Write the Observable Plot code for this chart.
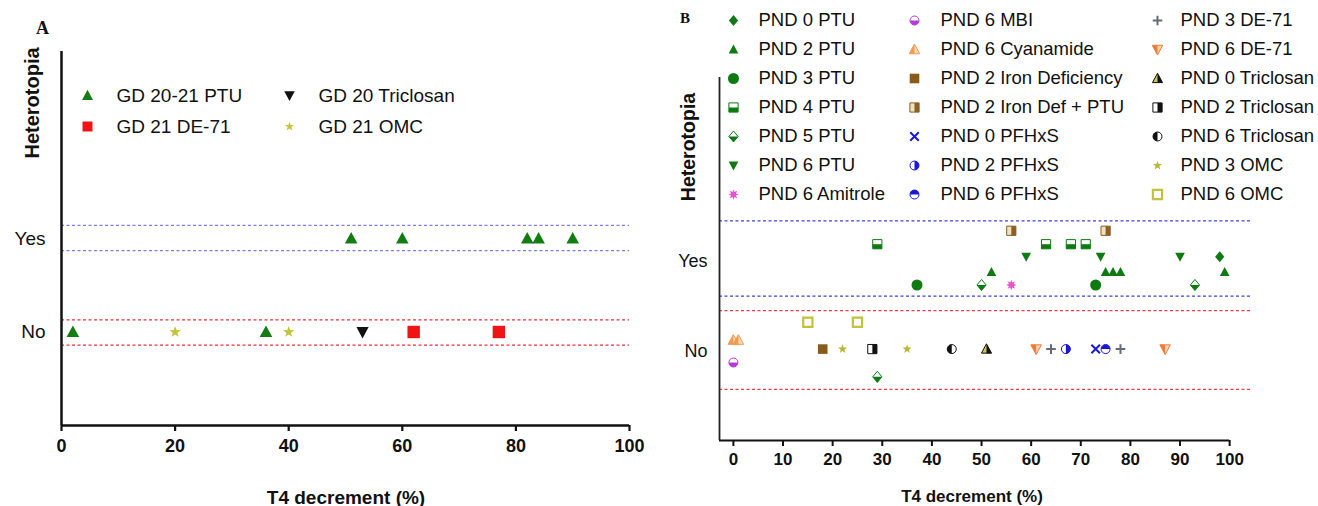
<!DOCTYPE html>
<html><head><meta charset="utf-8">
<script src="https://cdn.jsdelivr.net/npm/d3@7"></script>
<script src="https://cdn.jsdelivr.net/npm/@observablehq/plot@0.6"></script>
<style>
body{margin:0;background:#fff;font-family:"Liberation Sans",Arial,sans-serif;}
#wrap{position:relative;width:1318px;height:506px;overflow:hidden;background:#fff;}
.lbl{position:absolute;font-weight:bold;color:#111;white-space:nowrap;line-height:1;}
.panel{position:absolute;font-family:"Liberation Serif","Times New Roman",serif;font-weight:bold;color:#111;line-height:1;}
</style></head><body><div id="wrap"></div>
<script>
// ---------------- DATA ----------------
const yLabels = ["No", "Yes"];            // level 1 = No, level 2 = Yes
const aXTicks = [0, 20, 40, 60, 80, 100];
const bXTicks = [0, 10, 20, 30, 40, 50, 60, 70, 80, 90, 100];
const aYesBand = [1.87, 2.14], aNoBand = [0.86, 1.13];
const bYesBand = [1.61, 2.45], bNoBand = [0.57, 1.45];

// Panel A
const aSeries = ["GD 20-21 PTU", "GD 20 Triclosan", "GD 21 DE-71", "GD 21 OMC"];
const aPtuYes = [51, 60, 82, 84, 90];
const aPtuNo = [2, 36];
const aTriclosanNo = [53];
const aDe71No = [62, 77];
const aOmcNo = [20, 40];

// Panel B
const bSeries = ["PND 0 PTU","PND 2 PTU","PND 3 PTU","PND 4 PTU","PND 5 PTU","PND 6 PTU","PND 6 Amitrole",
  "PND 6 MBI","PND 6 Cyanamide","PND 2 Iron Deficiency","PND 2 Iron Def + PTU","PND 0 PFHxS","PND 2 PFHxS","PND 6 PFHxS",
  "PND 3 DE-71","PND 6 DE-71","PND 0 Triclosan","PND 2 Triclosan","PND 6 Triclosan","PND 3 OMC","PND 6 OMC"];
const bYes = [[98],[52,75,76.5,78,99],[37,73],[29,63,68,71],[50,93],[59,74,90],[56],
  [],[],[],[56,75],[],[],[],
  [],[],[],[],[],[],[]];
const bNo = [[],[],[],[],[29],[],[],
  [0],[0,1],[18],[],[73],[67],[75],
  [64,78],[61,87],[51],[28],[44],[22,35],[15,25]];

// ---------------- LAYOUT (row jitter within a level) ----------------
const bYesRow = {"PND 0 PTU":0.05,"PND 2 PTU":-0.12,"PND 3 PTU":-0.265,"PND 4 PTU":0.19,"PND 5 PTU":-0.265,
  "PND 6 PTU":0.05,"PND 6 Amitrole":-0.265,"PND 2 Iron Def + PTU":0.34};
const bNoRow = {"PND 5 PTU":-0.29,"PND 6 MBI":-0.13,"PND 6 Cyanamide":0.12,"PND 6 OMC":0.32};
const bNoDefault = 0.02;

// ---------------- STYLES ----------------
const G = "#0d7a12";
const aStyles = {
  "GD 20-21 PTU": {shape:"triangle", color:"#137d13", r:6},
  "GD 20 Triclosan": {shape:"triangleDown", color:"#111", r:5.8},
  "GD 21 DE-71": {shape:"square", color:"#f01414", r:6.2},
  "GD 21 OMC": {shape:"star", color:"#c4c43a", r:5}
};
const aLegendStyles = {
  "GD 20-21 PTU": {shape:"triangle", color:"#137d13", r:5.2},
  "GD 20 Triclosan": {shape:"triangleDown", color:"#111", r:5},
  "GD 21 DE-71": {shape:"square", color:"#f01414", r:5},
  "GD 21 OMC": {shape:"star", color:"#c4c43a", r:4}
};
const bStyles = {
  "PND 0 PTU": {shape:"diamond", color:G, r:4.6},
  "PND 2 PTU": {shape:"triangle", color:G, r:4.6},
  "PND 3 PTU": {shape:"circle", color:G, r:5.5},
  "PND 4 PTU": {shape:"square", half:"bottom", color:G, bg:"#fff", r:4.6},
  "PND 5 PTU": {shape:"diamond", half:"bottom", color:G, bg:"#fff", r:4.6},
  "PND 6 PTU": {shape:"triangleDown", color:G, r:4.6},
  "PND 6 Amitrole": {shape:"burst", color:"#ee4fd0", r:5.2},
  "PND 6 MBI": {shape:"circle", half:"bottom", color:"#b43bd8", bg:"#fff", r:4.5},
  "PND 6 Cyanamide": {shape:"triangle", half:"left", color:"#f29b52", bg:"#fcd9b6", r:5},
  "PND 2 Iron Deficiency": {shape:"square", color:"#8c5a18", r:4.8},
  "PND 2 Iron Def + PTU": {shape:"square", half:"right", color:"#8c5f22", bg:"#efe0bf", r:4.6},
  "PND 0 PFHxS": {shape:"times", line:true, color:"#1818d6", r:5},
  "PND 2 PFHxS": {shape:"circle", half:"right", color:"#1818d6", bg:"#fff", r:4.5},
  "PND 6 PFHxS": {shape:"circle", half:"top", color:"#1818d6", bg:"#fff", r:4.5},
  "PND 3 DE-71": {shape:"plus", line:true, color:"#666a78", r:4.8},
  "PND 6 DE-71": {shape:"triangleDown", half:"left", color:"#ef7d3a", bg:"#fcd3b3", r:5},
  "PND 0 Triclosan": {shape:"triangle", half:"right", color:"#111", bg:"#c9c65a", r:4.8},
  "PND 2 Triclosan": {shape:"square", half:"right", color:"#111", bg:"#fff", r:4.6},
  "PND 6 Triclosan": {shape:"circle", half:"left", color:"#111", bg:"#fff", r:4.5},
  "PND 3 OMC": {shape:"star", color:"#b8b632", r:4},
  "PND 6 OMC": {shape:"square", open:true, color:"#c2c23c", r:4.6}
};

// ---------------- SYMBOLS ----------------
function poly(ctx, pts){ctx.moveTo(pts[0][0],pts[0][1]);for(let i=1;i<pts.length;i++)ctx.lineTo(pts[i][0],pts[i][1]);ctx.closePath();}
function drawShape(ctx, shape, part, r){
  if (shape==="square"){
    const s=r, rects={full:[-s,-s,2*s,2*s],bottom:[-s,0,2*s,s],top:[-s,-s,2*s,s],left:[-s,-s,s,2*s],right:[0,-s,s,2*s]};
    const [x,y,w,h]=rects[part||"full"]; ctx.rect(x,y,w,h);
  } else if (shape==="circle"){
    const arcs={full:[0,2*Math.PI],bottom:[0,Math.PI],top:[Math.PI,2*Math.PI],right:[-Math.PI/2,Math.PI/2],left:[Math.PI/2,1.5*Math.PI]};
    const [a0,a1]=arcs[part||"full"];
    ctx.moveTo(r*Math.cos(a0),r*Math.sin(a0)); ctx.arc(0,0,r,a0,a1); ctx.closePath();
  } else if (shape==="diamond"){
    const w=r,h=r*1.2;
    if (part==="bottom") poly(ctx,[[-w,0],[w,0],[0,h]]); else poly(ctx,[[0,-h],[w,0],[0,h],[-w,0]]);
  } else if (shape==="triangle"||shape==="triangleDown"){
    const k=shape==="triangle"?1:-1, ta=-1.1*r*k, tb=0.85*r*k, w=r*1.05;
    if (part==="left") poly(ctx,[[0,ta],[0,tb],[-w,tb]]);
    else if (part==="right") poly(ctx,[[0,ta],[w,tb],[0,tb]]);
    else poly(ctx,[[0,ta],[w,tb],[-w,tb]]);
  } else if (shape==="star"||shape==="burst"){
    const n=shape==="star"?5:8, ro=shape==="star"?r*1.2:r, ri=shape==="star"?r*0.48:r*0.5, pts=[];
    for(let i=0;i<2*n;i++){const a=-Math.PI/2+i*Math.PI/n, rr=i%2?ri:ro; pts.push([rr*Math.cos(a),rr*Math.sin(a)]);}
    poly(ctx,pts);
  } else if (shape==="plus"){
    ctx.moveTo(-r,0);ctx.lineTo(r,0);ctx.moveTo(0,-r);ctx.lineTo(0,r);
  } else if (shape==="times"){
    const q=r*0.85; ctx.moveTo(-q,-q);ctx.lineTo(q,q);ctx.moveTo(-q,q);ctx.lineTo(q,-q);
  }
}
function sym(shape, part){return {draw(ctx,size){drawShape(ctx,shape,part,Math.sqrt(size/Math.PI));}};}
function symbolMarks(data, st){
  const base={x:"x",y:"y",r:st.r};
  if (st.line) return [Plot.dot(data,{...base,symbol:sym(st.shape),fill:"none",stroke:st.color,strokeWidth:2})];
  if (st.open) return [Plot.dot(data,{...base,symbol:sym(st.shape),fill:"none",stroke:st.color,strokeWidth:2.2})];
  if (st.half) return [
    Plot.dot(data,{...base,symbol:sym(st.shape),fill:st.bg,stroke:st.color,strokeWidth:1}),
    Plot.dot(data,{...base,symbol:sym(st.shape,st.half),fill:st.color})
  ];
  return [Plot.dot(data,{...base,symbol:sym(st.shape),fill:st.color})];
}

// ---------------- BUILD ----------------
const wrap=document.getElementById("wrap");
function place(node,left,top){node.style.position="absolute";node.style.left=left+"px";node.style.top=top+"px";wrap.appendChild(node);return node;}
function label(text,cls,css){const d=document.createElement("div");d.className=cls;d.textContent=text;Object.assign(d.style,css);wrap.appendChild(d);return d;}
const font='"Liberation Sans", Arial, sans-serif';

// Panel A points
const aPoints = {
  "GD 20-21 PTU": [...aPtuYes.map(x=>({x,y:2})), ...aPtuNo.map(x=>({x,y:1}))],
  "GD 20 Triclosan": aTriclosanNo.map(x=>({x,y:1})),
  "GD 21 DE-71": aDe71No.map(x=>({x,y:1})),
  "GD 21 OMC": aOmcNo.map(x=>({x,y:1}))
};
const aDots = aSeries.flatMap(s=>symbolMarks(aPoints[s], aStyles[s]));
const plotA = Plot.plot({
  width:660, height:506, marginLeft:61, marginRight:31, marginTop:51, marginBottom:81,
  x:{domain:[0,100], label:null}, y:{domain:[0,4], label:null},
  style:{fontFamily:font, color:"#111", background:"transparent"},
  marks:[
    Plot.ruleY(aYesBand,{stroke:"#7c7ce2",strokeWidth:1.4,strokeDasharray:"3,2.5"}),
    Plot.ruleY(aNoBand,{stroke:"#e8303a",strokeWidth:1.4,strokeDasharray:"3,2.5"}),
    Plot.ruleX([0],{stroke:"#111",strokeWidth:2.5}),
    Plot.ruleY([0],{stroke:"#111",strokeWidth:2.5}),
    Plot.axisX({ticks:aXTicks,tickSize:6,tickPadding:8,strokeWidth:2.2,fontSize:18,fontWeight:"bold",label:null}),
    Plot.axisY({ticks:[1,2],tickFormat:d=>yLabels[d-1],tickSize:0,tickPadding:16,fontSize:19,label:null}),
    ...aDots
  ]
});
place(plotA,0,0);

// Panel B points
const bPoints = {};
bSeries.forEach((s,i)=>{
  bPoints[s] = [
    ...bYes[i].map(x=>({x,y:2+(bYesRow[s]??0)})),
    ...bNo[i].map(x=>({x,y:1+(bNoRow[s]??bNoDefault)}))
  ];
});
const bXDomain=[-2.8,104.2];
const bDots = bSeries.flatMap(s=>bPoints[s].length?symbolMarks(bPoints[s], bStyles[s]):[]);
const plotB = Plot.plot({
  width:658, height:506, marginLeft:59, marginRight:68, marginTop:77, marginBottom:66,
  x:{domain:bXDomain, label:null}, y:{domain:[0,4.05], label:null},
  style:{fontFamily:font, color:"#111", background:"transparent"},
  marks:[
    Plot.ruleY(bYesBand,{stroke:"#4040d8",strokeWidth:1.3,strokeDasharray:"3,2.5"}),
    Plot.ruleY(bNoBand,{stroke:"#ea3a44",strokeWidth:1.3,strokeDasharray:"3,2.5"}),
    Plot.ruleX([bXDomain[0]],{stroke:"#222",strokeWidth:1.8}),
    Plot.ruleY([0],{x1:()=>bXDomain[0],x2:()=>bXTicks[bXTicks.length-1],stroke:"#111",strokeWidth:2.2}),
    Plot.axisX({ticks:bXTicks,tickSize:6,tickPadding:6,strokeWidth:2,fontSize:17,fontWeight:"bold",label:null}),
    Plot.axisY({ticks:[1,2],tickFormat:d=>yLabels[d-1],tickSize:0,tickPadding:12,fontSize:18,label:null}),
    ...bDots
  ]
});
place(plotB,660,0);

// Legend A
const aLegCols=[87,289], aLegRows=[95,126], aLegDx=29;
const aLeg = aSeries.map((s,i)=>({s,x:aLegCols[i%2],y:aLegRows[Math.floor(i/2)]}));
const legA = Plot.plot({
  width:660, height:160, x:{type:"identity",axis:null}, y:{type:"identity",axis:null},
  style:{fontFamily:font, color:"#111", background:"transparent"},
  marks:[
    ...aLeg.flatMap(d=>symbolMarks([d], aLegendStyles[d.s])),
    Plot.text(aLeg,{x:"x",y:"y",text:"s",dx:aLegDx,textAnchor:"start",fontSize:19,fill:"#111"})
  ]
});
place(legA,0,0);

// Legend B
const bLegCols=[73,254,497], bLegRows=d3.range(7).map(i=>20+i*29), bLegDx=[25,26,23];
const bLeg = bSeries.map((s,i)=>({s,c:Math.floor(i/7),x:bLegCols[Math.floor(i/7)],y:bLegRows[i%7]}));
const legB = Plot.plot({
  width:658, height:215, x:{type:"identity",axis:null}, y:{type:"identity",axis:null},
  style:{fontFamily:font, color:"#111", background:"transparent"},
  marks:[
    ...bLeg.flatMap(d=>symbolMarks([d], bStyles[d.s])),
    ...[0,1,2].map(c=>Plot.text(bLeg.filter(d=>d.c===c),{x:"x",y:"y",text:"s",dx:bLegDx[c],textAnchor:"start",fontSize:18.5,fill:"#111"}))
  ]
});
place(legB,660,0);

// Text labels
label("A","panel",{left:"36px",top:"19px",fontSize:"18px"});
label("B","panel",{left:"680px",top:"11px",fontSize:"15px"});
label("Heterotopia","lbl",{left:"32px",top:"103px",fontSize:"20px",fontFamily:font,transform:"translate(-50%,-50%) rotate(-90deg)"});
label("Heterotopia","lbl",{left:"689px",top:"147px",fontSize:"19.5px",fontFamily:font,transform:"translate(-50%,-50%) rotate(-90deg)"});
label("T4 decrement (%)","lbl",{left:"346px",top:"497px",fontSize:"19px",fontFamily:font,transform:"translate(-50%,-50%)"});
label("T4 decrement (%)","lbl",{left:"972px",top:"496px",fontSize:"17px",fontFamily:font,transform:"translate(-50%,-50%)"});
</script></body></html>
